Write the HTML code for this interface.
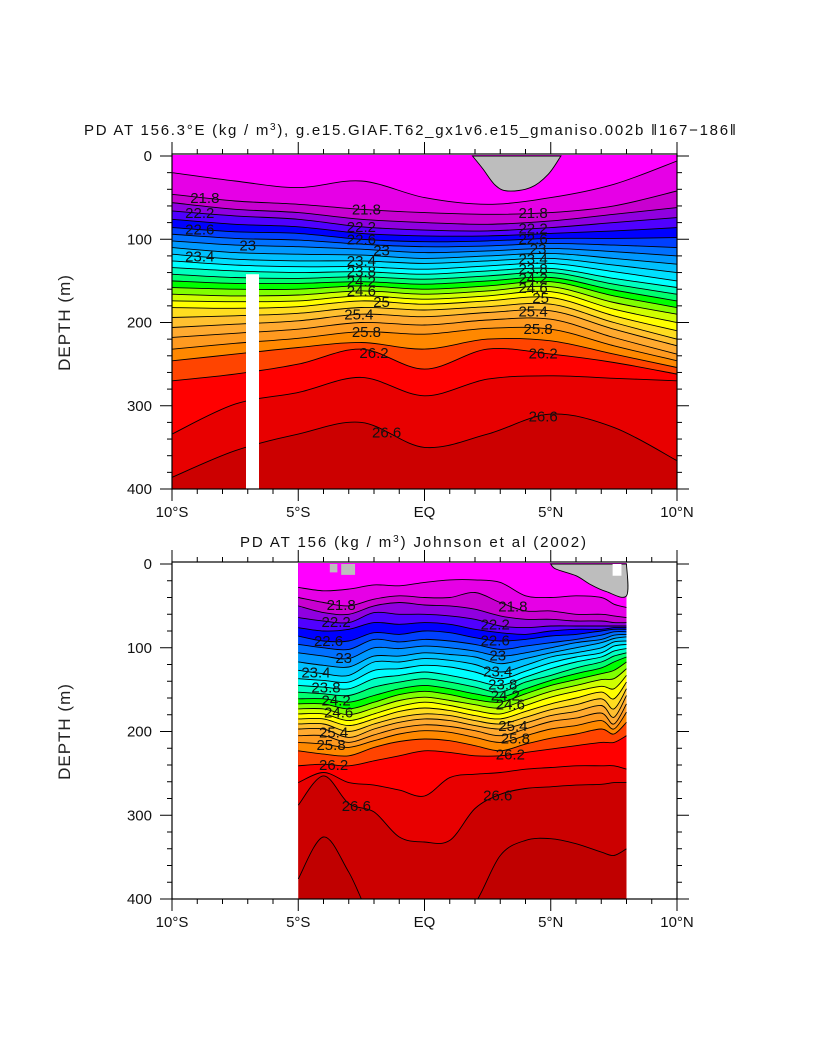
<!DOCTYPE html>
<html><head><meta charset="utf-8">
<style>
html,body{margin:0;padding:0;background:#fff;}
svg{display:block;font-family:"Liberation Sans",sans-serif;}
</style></head>
<body>
<svg id="chart" width="818" height="1055" viewBox="0 0 818 1055">
<defs>
<clipPath id="clipTop"><rect x="172" y="155" width="505" height="334"/></clipPath>
<clipPath id="clipBot"><rect x="172" y="563" width="505" height="336"/></clipPath>
</defs>
<g id="top"></g>
<g id="bot"></g>
</svg>
<script>
// ---- data ----
const levels = [21.6,21.8,22.0,22.2,22.4,22.6,22.8,23.0,23.2,23.4,23.6,23.8,24.0,24.2,24.4,24.6,24.8,25.0,25.2,25.4,25.6,25.8,26.0,26.2,26.4,26.6,26.8];
const topLats = [-10,-7.5,-5,-2.5,0,2.5,5,7.5,10];
const topDepths = [
[20,30,38,30,50,58,50,34,6],
[46,54,58,64,68,70,68,60,42],
[56,64,68,76,80,82,78,70,62],
[66,72,76,85,89,90,86,80,74],
[76,82,85,93,96,96,93,90,86],
[86,91,93,100,103,102,99,99,98],
[94,99,101,106,109,108,105,107,110],
[102,107,109,112,116,114,111,115,120],
[110,116,118,119,123,120,117,123,130],
[118,124,126,126,129,126,123,131,140],
[126,131,133,133,136,132,129,139,150],
[134,138,140,139,142,138,135,147,158],
[142,146,147,145,148,144,140,154,166],
[150,153,153,151,154,150,146,161,174],
[158,160,160,156,160,156,151,168,182],
[166,168,167,162,166,162,157,176,190],
[174,175,174,168,172,168,163,184,200],
[182,183,181,174,178,174,170,192,210],
[194,192,189,182,185,181,178,200,220],
[206,202,198,190,193,188,186,208,228],
[218,213,208,200,203,197,196,218,238],
[232,225,219,211,214,207,208,228,246],
[246,238,230,224,232,220,222,238,254],
[270,262,250,232,256,232,238,248,262],
[334,298,284,266,288,268,264,267,270],
[386,354,334,320,350,334,310,326,366],
[420,420,420,420,420,420,405,405,420]
];
const botLats = [-5,-4,-3,-2,-1,0,1,2,3,4,5,6,7,7.5,8];
const botDepths = [
[28,32,30,25,26,22,19,19,22,38,40,38,40,48,52],
[40,46,50,42,38,40,40,34,46,56,56,60,60,62,64],
[50,58,60,50,46,49,50,54,62,66,66,68,68,70,70],
[64,68,70,58,60,60,62,66,74,76,74,74,74,74,74],
[76,80,78,70,72,70,72,78,82,84,80,78,78,76,76],
[86,92,92,82,84,80,82,88,92,90,86,84,80,78,78],
[96,100,102,90,93,90,92,96,102,98,94,90,85,81,81],
[106,110,113,100,101,98,100,104,110,106,100,94,90,85,84],
[117,121,123,110,110,106,108,111,119,113,106,100,94,89,87],
[127,131,133,117,117,113,115,120,129,121,111,106,100,93,92],
[137,139,141,127,125,121,123,129,137,128,118,111,106,98,96],
[145,147,149,137,133,129,133,139,145,135,125,117,111,104,101],
[153,155,157,147,141,137,141,147,153,141,133,124,117,110,106],
[161,161,165,157,149,145,149,155,159,149,139,131,124,117,111],
[167,167,173,165,156,152,156,162,165,155,145,138,131,127,117],
[173,173,180,172,163,159,163,168,172,162,152,145,138,137,125],
[179,179,187,179,170,165,169,175,179,169,159,152,146,149,133],
[185,185,193,185,176,172,175,181,185,176,167,160,153,161,141],
[191,191,200,191,183,179,181,187,191,183,174,168,161,173,149],
[197,197,207,197,189,185,187,193,197,190,181,176,169,183,157],
[205,205,213,204,196,192,194,199,205,197,188,184,178,191,167],
[213,215,219,211,203,199,201,207,213,205,197,193,187,197,177],
[223,227,229,219,212,209,211,217,223,215,208,203,197,203,189],
[241,239,241,235,229,223,225,229,229,225,221,217,213,213,205],
[261,249,261,264,270,277,255,251,249,245,243,241,241,241,245],
[288,253,286,296,326,332,330,292,275,268,266,264,263,261,261],
[376,326,368,427,427,427,427,405,348,330,328,334,344,348,340]
];
const topLabels = [[-8.7,'21.8'],[-8.9,'22.2'],[-8.9,'22.6'],[-7.0,'23'],[-8.9,'23.4'],
 [-2.3,'21.8'],[-2.5,'22.2'],[-2.5,'22.6'],[-1.7,'23'],[-2.5,'23.4'],[-2.5,'23.8'],[-2.5,'24.2'],[-2.5,'24.6'],[-1.7,'25'],[-2.6,'25.4'],[-2.3,'25.8'],[-2.0,'26.2'],[-1.5,'26.6'],
 [4.3,'21.8'],[4.3,'22.2'],[4.3,'22.6'],[4.5,'23'],[4.3,'23.4'],[4.3,'23.8'],[4.3,'24.2'],[4.3,'24.6'],[4.6,'25'],[4.3,'25.4'],[4.5,'25.8'],[4.7,'26.2'],[4.7,'26.6']];
const botLabels = [[-3.3,'21.8'],[-3.5,'22.2'],[-3.8,'22.6'],[-3.2,'23'],[-4.3,'23.4'],[-3.9,'23.8'],[-3.5,'24.2'],[-3.4,'24.6'],[-3.6,'25.4'],[-3.7,'25.8'],[-3.6,'26.2'],[-2.7,'26.6'],
 [3.5,'21.8'],[2.8,'22.2'],[2.8,'22.6'],[2.9,'23'],[2.9,'23.4'],[3.1,'23.8'],[3.2,'24.2'],[3.4,'24.6'],[3.5,'25.4'],[3.6,'25.8'],[3.4,'26.2'],[2.9,'26.6']];
const xTickLabels = ['10°S','5°S','EQ','5°N','10°N'];
const xTickLats = [-10,-5,0,5,10];
const yTickLabels = ['0','100','200','300','400'];
const yTickDepths = [0,100,200,300,400];
const topMask = [[1.9,0],[2.3,15],[2.8,35],[3.3,42],[4.2,38],[4.9,22],[5.4,0]];
const botMask = [[5,0],[5.2,6],[6,14],[6.6,25],[7.2,33],[8,38],[8,0]];

const colors = ['#ff00ff','#e600e6','#c800d0','#9000e0','#5000ff','#0000ff','#0040ff','#0070ff','#0098ff','#00c0ff','#00e0ff','#00ffff','#00ffc0','#00ff70','#00ff00','#80ff00','#d0ff00','#ffff00','#ffdd20','#ffc030','#ffaa30','#ff9a20','#ff8800','#ff4400','#ff0000','#e80000','#cc0000','#c00000'];

const NS='http://www.w3.org/2000/svg';
function mk(tag, attrs, parent){const e=document.createElementNS(NS,tag);for(const k in attrs)e.setAttribute(k,attrs[k]);parent.appendChild(e);return e;}

function smoothPath(pts){
  let d='';
  for(let i=0;i<pts.length-1;i++){
    const p0=pts[Math.max(i-1,0)],p1=pts[i],p2=pts[i+1],p3=pts[Math.min(i+2,pts.length-1)];
    const c1=[p1[0]+(p2[0]-p0[0])/6,p1[1]+(p2[1]-p0[1])/6];
    const c2=[p2[0]-(p3[0]-p1[0])/6,p2[1]-(p3[1]-p1[1])/6];
    d+=` C${c1[0].toFixed(1)},${c1[1].toFixed(1)} ${c2[0].toFixed(1)},${c2[1].toFixed(1)} ${p2[0].toFixed(1)},${p2[1].toFixed(1)}`;
  }
  return d;
}
function interp(lats, arr, lat){
  for(let i=0;i<lats.length-1;i++){ if(lat>=lats[i]&&lat<=lats[i+1]){const t=(lat-lats[i])/(lats[i+1]-lats[i]);return arr[i]+t*(arr[i+1]-arr[i]);} }
  return arr[arr.length-1];
}

function panel(g, cfg){
  const xS = lat => 172 + (lat+10)*25.25;
  const yS = d => cfg.y0 + d*cfg.ky;
  const y400 = yS(400);
  const t = mk('text',{x:cfg.titleX,y:cfg.titleY,'font-size':'15',fill:'#111',textLength:cfg.titleW,lengthAdjust:'spacing'},g);
  
  
  t.innerHTML = cfg.title;
  const area = mk('g',{'clip-path':`url(#${cfg.clip})`},g);
  
  
  const L0 = cfg.lats[0], L1 = cfg.lats[cfg.lats.length-1];
  const bg = mk('rect',{x:xS(L0),y:yS(0),width:xS(L1)-xS(L0),height:y400-yS(0),fill:colors[colors.length-1]},area);
  
  
  for(let k=levels.length-1;k>=0;k--){
    const pts = cfg.lats.map((lat,i)=>[xS(lat), yS(cfg.depths[k][i])]);
    const d = `M${xS(L0)},${yS(0)-2} L${pts[0][0]},${pts[0][1]}`+smoothPath(pts)+` L${xS(L1)},${yS(0)-2} Z`;
    const p = mk('path',{d:d,fill:colors[k]},area);
    
    
  }
  for(let k=0;k<levels.length;k++){
    const pts = cfg.lats.map((lat,i)=>[xS(lat), yS(cfg.depths[k][i])]);
    const l = mk('path',{d:`M${pts[0][0]},${pts[0][1]}`+smoothPath(pts),fill:'none',stroke:'#000','stroke-width':'0.9'},area);
    
    
  }
  const mpts = cfg.mask.map(p=>[xS(p[0]),yS(p[1])]);
  const mp = mk('path',{d:`M${mpts[0][0]},${mpts[0][1]}`+smoothPath(mpts)+' Z',fill:'#bdbdbd',stroke:'#000','stroke-width':'0.9'},area);
  
  
  if(cfg.extra) cfg.extra(area,xS,yS);
  cfg.labels.forEach(lb=>{
    const k = levels.indexOf(parseFloat(lb[1]));
    const dep = interp(cfg.lats, cfg.depths[k], lb[0]);
    const tx = mk('text',{x:xS(lb[0]),y:yS(dep)+5,'text-anchor':'middle','font-size':'15',fill:'#111'},area);
    
    
    tx.textContent = lb[1];
  });
  const fr = mk('rect',{x:172,y:yS(0)-2,width:505,height:y400-yS(0)+2,fill:'none',stroke:'#000','stroke-width':'1.2'},g);
  
  
  const tk = mk('g',{stroke:'#000','stroke-width':'1'},g);
  
  
  for(let lat=-10;lat<=10;lat++){
    const len = lat%5===0?12:5, x=xS(lat);
    mk('line',{x1:x,y1:yS(0)-2,x2:x,y2:yS(0)-2-len},tk);
    mk('line',{x1:x,y1:y400,x2:x,y2:y400+len},tk);
  }
  for(let d=0;d<=400;d+=20){
    const len = d%100===0?12:5, y=yS(d);
    mk('line',{x1:172,y1:y,x2:172-len,y2:y},tk);
    mk('line',{x1:677,y1:y,x2:677+len,y2:y},tk);
  }
  xTickLats.forEach((lat,i)=>{
    const tx = mk('text',{x:xS(lat),y:y400+28,'text-anchor':'middle','font-size':'15',fill:'#111'},g);
    
    
    tx.textContent = xTickLabels[i];
  });
  yTickDepths.forEach((d,i)=>{
    const tx = mk('text',{x:152,y:yS(d)+5,'text-anchor':'end','font-size':'15',fill:'#111'},g);
    
    
    tx.textContent = yTickLabels[i];
  });
  const yt = mk('text',{x:0,y:0,transform:`translate(70,${(yS(0)+y400)/2}) rotate(-90)`,'text-anchor':'middle','font-size':'17',fill:'#222','letter-spacing':'1'},g);
  
  
  yt.textContent = 'DEPTH (m)';
}

panel(document.getElementById('top'),{
  name:'model-panel', y0:156, ky:0.8325, clip:'clipTop', titleY:135, titleX:84, titleW:652,
  title:'PD AT 156.3°E (kg / m<tspan font-size="10" dy="-5">3</tspan><tspan dy="5">), g.e15.GIAF.T62_gx1v6.e15_gmaniso.002b ‖167−186‖</tspan>',
  lats:topLats, depths:topDepths, labels:topLabels, mask:topMask,
  extra:(area,xS,yS)=>{
    const r = mk('rect',{x:246,y:yS(142),width:13,height:yS(400)-yS(142),fill:'#fff'},area);
    
    
  }
});
panel(document.getElementById('bot'),{
  name:'obs-panel', y0:564, ky:0.8375, clip:'clipBot', titleY:547, titleX:240, titleW:346,
  title:'PD AT 156 (kg / m<tspan font-size="10" dy="-5">3</tspan><tspan dy="5">) Johnson et al (2002)</tspan>',
  lats:botLats, depths:botDepths, labels:botLabels, mask:botMask,
  extra:(area,xS,yS)=>{
    const a = mk('rect',{x:xS(-3.75),y:yS(0),width:xS(-3.45)-xS(-3.75),height:yS(10)-yS(0),fill:'#bdbdbd'},area);
    
    
    const b = mk('rect',{x:xS(-3.3),y:yS(0),width:xS(-2.75)-xS(-3.3),height:yS(13)-yS(0),fill:'#bdbdbd'},area);
    
    
    const w = mk('rect',{x:xS(7.45),y:yS(0),width:xS(7.8)-xS(7.45),height:yS(14)-yS(0),fill:'#fff'},area);
    
    
  }
});
</script>
</body></html>
